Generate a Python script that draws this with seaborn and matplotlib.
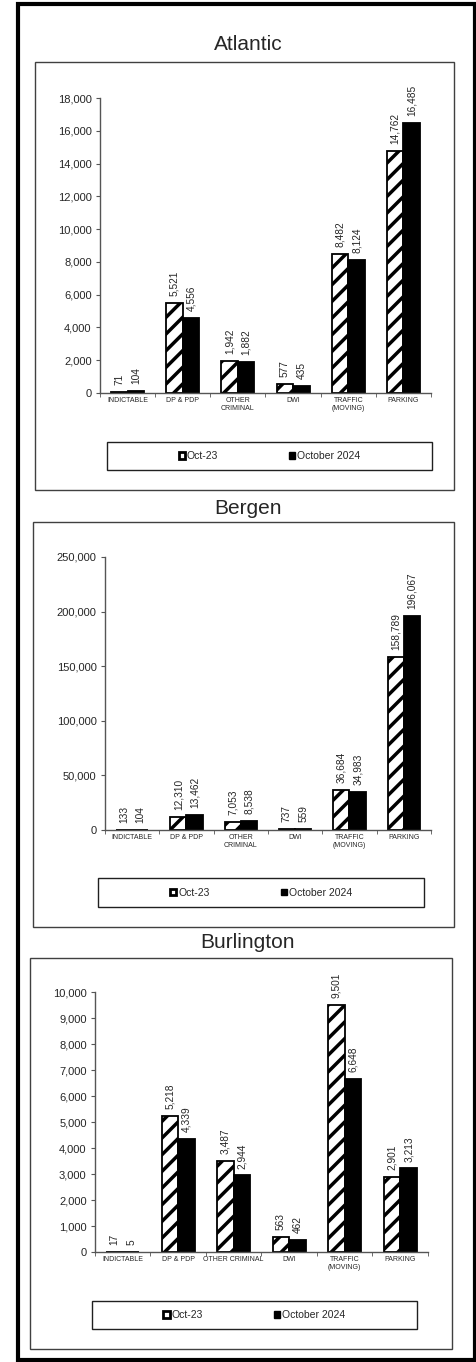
import pandas as pd
import seaborn as sns
import matplotlib.pyplot as plt
from matplotlib.patches import Rectangle, Patch
from matplotlib.ticker import FuncFormatter, MultipleLocator

categories = ["INDICTABLE", "DP & PDP", "OTHER CRIMINAL", "DWI", "TRAFFIC (MOVING)", "PARKING"]
periods = ["Oct-23", "October 2024"]

atlantic_2023 = [71, 5521, 1942, 577, 8482, 14762]
atlantic_2024 = [104, 4556, 1882, 435, 8124, 16485]
bergen_2023 = [133, 12310, 7053, 737, 36684, 158789]
bergen_2024 = [104, 13462, 8538, 559, 34983, 196067]
burlington_2023 = [17, 5218, 3487, 563, 9501, 2901]
burlington_2024 = [5, 4339, 2944, 462, 6648, 3213]

labels_two_line = ["INDICTABLE", "DP & PDP", "OTHER\nCRIMINAL", "DWI", "TRAFFIC\n(MOVING)", "PARKING"]
labels_burlington = ["INDICTABLE", "DP & PDP", "OTHER CRIMINAL", "DWI", "TRAFFIC\n(MOVING)", "PARKING"]

sns.set_style("white")
plt.rcParams['font.family'] = ['Liberation Sans', 'DejaVu Sans']
plt.rcParams['hatch.linewidth'] = 2.5
plt.rcParams['hatch.color'] = 'black'

W, H = 477, 1362
fig = plt.figure(figsize=(W / 100, H / 100), dpi=100)


def fx(x):
    return x / W


def fy(y):
    return 1 - y / H


def box(x0, y0, x1, y1, lw=1.0, color='#404040'):
    r = Rectangle((fx(x0), fy(y1)), fx(x1) - fx(x0), fy(y0) - fy(y1),
                  transform=fig.transFigure, fill=False, lw=lw, edgecolor=color)
    fig.add_artist(r)


# outer frame
box(18, 4, 475, 1360, lw=3, color='black')

panels = [
    # title, v2023, v2024, ymax, step, xlabels, title_y, frame, axes(l, t, r, b), legend box
    ("Atlantic", atlantic_2023, atlantic_2024, 18000, 2000, labels_two_line, 45,
     (35, 62, 454, 490), (100, 98, 431, 393), (107, 442, 432, 470)),
    ("Bergen", bergen_2023, bergen_2024, 250000, 50000, labels_two_line, 508,
     (33, 522, 454, 927), (105, 557, 431, 830), (98, 878, 424, 907)),
    ("Burlington", burlington_2023, burlington_2024, 10000, 1000, labels_burlington, 942,
     (30, 958, 452, 1349), (95, 992, 428, 1252), (92, 1301, 417, 1329)),
]

for title, v23, v24, ymax, step, xlabels, ty, frame, axpos, legbox in panels:
    box(*frame)
    fig.text(fx(248), fy(ty), title, ha='center', va='center', fontsize=15)

    l, t, r, b = axpos
    ax = fig.add_axes([fx(l), fy(b), fx(r) - fx(l), fy(t) - fy(b)])
    df = pd.DataFrame({
        "category": categories * 2,
        "period": [periods[0]] * 6 + [periods[1]] * 6,
        "value": v23 + v24,
    })
    sns.barplot(data=df, x="category", y="value", hue="period", order=categories,
                hue_order=periods, palette=['white', 'black'], width=0.6,
                edgecolor='black', linewidth=1.3, legend=False, ax=ax)
    for p in ax.containers[0].patches:
        p.set_hatch('//')
    for cont, vals in zip(ax.containers, [v23, v24]):
        ax.bar_label(cont, labels=[f"{v:,}" for v in vals], rotation=90,
                     padding=5, fontsize=7.3)

    ax.set_xlim(-0.5, 5.5)
    ax.set_ylim(0, ymax)
    ax.yaxis.set_major_locator(MultipleLocator(step))
    ax.yaxis.set_major_formatter(FuncFormatter(lambda v, _: f"{int(v):,}"))
    ax.set_xticks(range(6))
    ax.set_xticklabels(xlabels, fontsize=5, linespacing=1.1)
    ax.set_xticks([i - 0.5 for i in range(7)], minor=True)
    ax.tick_params(axis='x', which='major', length=0, pad=3)
    ax.tick_params(axis='x', which='minor', length=3, direction='out',
                   color='#555555', bottom=True)
    ax.tick_params(axis='y', length=3, direction='out', color='#555555',
                   labelsize=8, pad=3, left=True)
    ax.set_xlabel("")
    ax.set_ylabel("")
    for s in ['top', 'right']:
        ax.spines[s].set_visible(False)
    for s in ['left', 'bottom']:
        ax.spines[s].set_color('#555555')
        ax.spines[s].set_linewidth(1)

    # legend box
    lx0, ly0, lx1, ly1 = legbox
    box(lx0, ly0, lx1, ly1, lw=1.0, color='#202020')
    handles = [Patch(facecolor='white', edgecolor='black', lw=2),
               Patch(facecolor='black', edgecolor='black')]
    fig.legend(handles, periods, loc='center',
               bbox_to_anchor=(fx((lx0 + lx1) / 2), fy((ly0 + ly1) / 2)),
               ncol=2, frameon=False, fontsize=7.5, handlelength=0.6,
               handleheight=0.6, handletextpad=0.2, columnspacing=6.8,
               borderaxespad=0)

fig.savefig("out.png", dpi=100)
